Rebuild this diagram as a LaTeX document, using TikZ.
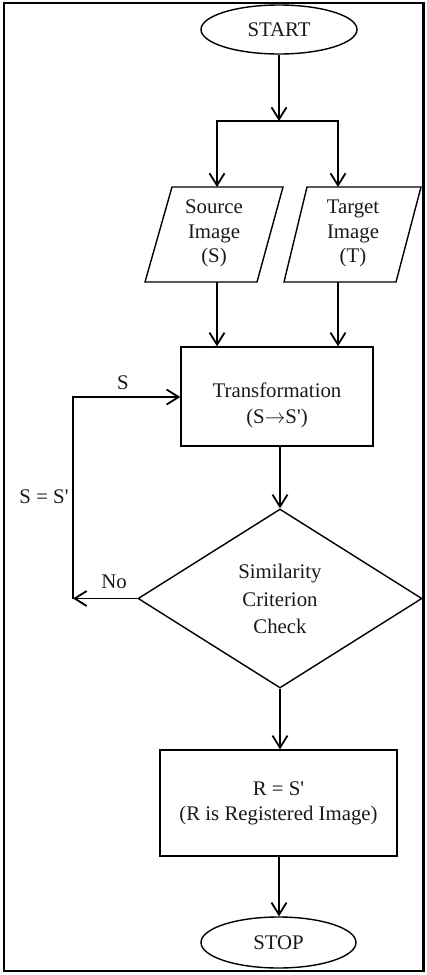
\documentclass[tikz,border=0pt]{standalone}
\usepackage{fontspec}
\setmainfont{Liberation Serif}
\usetikzlibrary{arrows.meta,shapes.geometric}
\newcommand{\sq}{\textquotesingle}
\tikzset{
  conn/.style={line width=1.8pt, -{Straight Barb[length=12pt,width=15pt,line width=1.8pt]}},
  plain/.style={line width=1.8pt},
  shp/.style={draw, line width=1.4pt, inner sep=0pt},
  txt/.style={align=center, inner sep=0pt, font=\fontsize{20.8}{25}\selectfont, text=black!90},
}
\begin{document}
\begin{tikzpicture}[x=1pt,y=-1pt]
\useasboundingbox (0,0) rectangle (426,975);
\draw[line width=2.4pt] (4,3) rectangle (423.5,971);

% terminals
\node[shp, ellipse, minimum width=156, minimum height=49, txt] (start) at (279,29.5) {START};
\node[shp, ellipse, minimum width=155, minimum height=51, txt] (stop) at (278.5,942.5) {STOP};

% parallelograms
\coordinate (s1) at (145,282); \coordinate (s2) at (257,282);
\coordinate (s3) at (283,187); \coordinate (s4) at (172,187);
\draw[line width=1.4pt, line join=miter] (s1) -- (s2) -- (s3) -- (s4) -- cycle;
\node[txt, font=\fontsize{20.8}{24.5}\selectfont] (src) at (214,233.5) {Source\\Image\\(S)};
\coordinate (t1) at (284,282); \coordinate (t2) at (396,282);
\coordinate (t3) at (421,187); \coordinate (t4) at (307,187);
\draw[line width=1.4pt, line join=miter] (t1) -- (t2) -- (t3) -- (t4) -- cycle;
\node[txt, font=\fontsize{20.8}{24.5}\selectfont] (tgt) at (353,233.5) {Target\\Image\\(T)};

% transformation
\node[shp, rectangle, minimum width=192, minimum height=99] (tr) at (277,396.5) {};
\node[txt, font=\fontsize{20.8}{26}\selectfont] (trtxt) at (277,405) {Transformation\\(S\ensuremath{\rightarrow}S\sq)};

% decision
\node[shp, diamond, minimum width=284, minimum height=179] (dia) at (280,598.5) {};
\node[txt, font=\fontsize{20.8}{27.5}\selectfont] (diatxt) at (280,599) {Similarity\\Criterion\\Check};

% result
\node[shp, rectangle, minimum width=237, minimum height=106, txt] (res) at (278.5,803) {R = S\sq\\(R is Registered Image)};

% branch
\coordinate (br) at (279,121);
\coordinate (brl) at (217,121);
\coordinate (brr) at (338,121);
\coordinate (sb) at (217,282);
\coordinate (tb) at (338,282);
\draw[conn] (start.south -| br) -- (br);
\draw[plain, line cap=rect] (brl) -- (brr);
\draw[conn] (brl) -- (brl |- s4);
\draw[conn] (brr) -- (brr |- t4);
\draw[conn] (sb) -- (sb |- tr.north);
\draw[conn] (tb) -- (tb |- tr.north);

\draw[conn] (dia.north |- tr.south) -- (dia.north);
\draw[conn] (dia.south) -- (dia.south |- res.north);
\draw[conn] (res.south -| br) -- (stop.north -| br);

% loop
\coordinate (lp1) at (73,598.5);
\coordinate (lp2) at (73,397);
\draw[conn] (dia.west) -- (lp1);
\draw[conn, line join=miter] (lp1) -- (lp2) -- (lp2 -| tr.west);
\node[txt] (lbS) at (123,383) {S};
\node[txt] (lbSS) at (44,497) {S = S\sq};
\node[txt] (lbNo) at (114,582) {No};
\end{tikzpicture}
\end{document}
